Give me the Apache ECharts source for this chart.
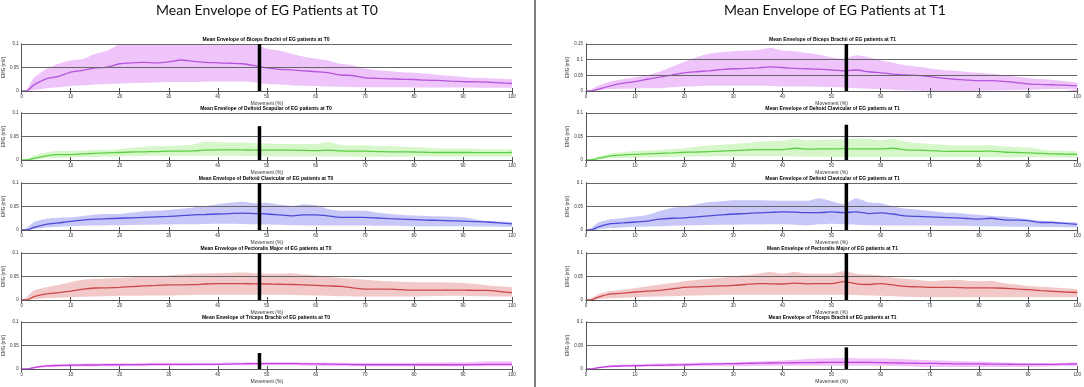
<!DOCTYPE html>
<html>
<head>
<meta charset="utf-8">
<script src="https://cdn.jsdelivr.net/npm/echarts@6/dist/echarts.min.js"></script>
<style>
  html, body { margin: 0; padding: 0; background: #fff; }
  #chart { width: 1084px; height: 387px; }
</style>
</head>
<body>
<div id="chart"></div>
<script>
// movement (%) sample points
var movement = [0, 1, 2.5, 5, 7.5, 10, 12.5, 15, 17.5, 20,
  22.5, 25, 27.5, 30, 32.5, 35, 37.5, 40, 42.5, 45,
  47.5, 50, 52.5, 55, 57.5, 60, 62.5, 65, 67.5, 70,
  72.5, 75, 77.5, 80, 82.5, 85, 87.5, 90, 92.5, 95,
  97.5, 100];

// ---- T0 ----
var bicepsT0Mean = [0, 0, .013, .026, .031, .040, .044, .049, .051, .058,
  .060, .061, .060, .062, .066, .063, .061, .060, .059, .058,
  .054, .049, .046, .045, .043, .041, .039, .034, .033, .028,
  .027, .026, .025, .0245, .023, .0225, .021, .020, .0195, .019,
  .0175, .016];
var bicepsT0Up = [0, .002, .028, .047, .058, .065, .068, .079, .086, .100,
  .106, .108, .11, .11, .11, .11, .11, .11, .108, .106,
  .100, .090, .086, .079, .073, .069, .065, .058, .055, .048,
  .044, .042, .040, .039, .037, .034, .032, .030, .028, .027,
  .026, .025];
var bicepsT0Low = [0, 0, .002, .006, .008, .0105, .012, .014, .015, .016,
  .017, .0175, .018, .019, .019, .019, .0195, .020, .020, .020,
  .018, .015, .014, .0125, .011, .0105, .0095, .009, .0085, .008,
  .008, .008, .0078, .0075, .0075, .0075, .0073, .0072, .0071, .007,
  .007, .007];

var scapT0Mean = [0, 0, .0035, .009, .0115, .0115, .013, .014, .015, .016,
  .017, .0175, .018, .019, .019, .0195, .021, .0215, .0215, .0215,
  .021, .021, .021, .021, .0205, .020, .021, .0195, .019, .019,
  .018, .0175, .0172, .017, .0165, .016, .016, .016, .0158, .0155,
  .0157, .016];
var scapT0Up = [0, .001, .009, .016, .019, .019, .020, .0215, .022, .023,
  .026, .028, .029, .030, .031, .033, .039, .038, .037, .037,
  .036, .035, .034, .034, .034, .034, .039, .032, .031, .0315,
  .030, .029, .028, .027, .026, .0245, .0245, .0245, .024, .023,
  .023, .023];
var scapT0Low = [0, 0, .0005, .0035, .0045, .0055, .006, .0065, .007, .0077,
  .008, .0085, .0088, .009, .009, .009, .009, .009, .0088, .0085,
  .008, .0077, .0077, .0077, .0077, .0077, .0075, .0072, .007, .007,
  .007, .007, .007, .007, .0072, .0074, .0075, .0077, .0077, .0077,
  .0077, .0077];

var clavT0Mean = [0, 0, .0055, .012, .015, .0185, .021, .023, .024, .025,
  .026, .027, .028, .029, .0305, .032, .033, .034, .035, .036,
  .035, .034, .032, .030, .032, .032, .030, .027, .027, .027,
  .0255, .024, .023, .022, .021, .0205, .0195, .019, .018, .017,
  .015, .013];
var clavT0Up = [0, .004, .017, .024, .026, .027, .030, .033, .034, .034,
  .037, .040, .041, .0425, .045, .048, .051, .055, .058, .060,
  .057, .058, .054, .051, .055, .053, .0445, .041, .041, .041,
  .037, .034, .032, .031, .030, .029, .028, .027, .023, .019,
  .018, .017];
var clavT0Low = [0, 0, .002, .0055, .007, .008, .009, .0095, .0098, .010,
  .0105, .011, .0112, .0115, .012, .0125, .013, .0135, .0135, .013,
  .012, .0115, .011, .010, .0098, .0095, .0095, .0095, .0095, .0095,
  .009, .0088, .0085, .008, .008, .008, .008, .008, .0075, .0072,
  .007, .007];

var pectT0Mean = [0, 0, .007, .013, .0156, .019, .023, .0255, .026, .027,
  .0285, .030, .031, .032, .0322, .0325, .034, .0347, .0347, .0347,
  .0345, .034, .0335, .033, .032, .031, .030, .029, .026, .023,
  .023, .023, .022, .021, .021, .021, .021, .021, .0205, .0205,
  .018, .0156];
var pectT0Up = [0, .006, .020, .027, .032, .038, .043, .045, .046, .047,
  .0485, .050, .051, .052, .054, .056, .0565, .057, .058, .0585,
  .057, .056, .056, .057, .054, .052, .049, .047, .045, .043,
  .041, .040, .039, .038, .038, .038, .037, .036, .034, .031,
  .029, .027];
var pectT0Low = [0, 0, .0015, .004, .005, .006, .007, .0075, .008, .009,
  .009, .0093, .0095, .0095, .010, .0105, .011, .011, .011, .011,
  .011, .011, .011, .0105, .010, .0095, .009, .008, .0077, .0075,
  .0075, .0075, .0075, .0075, .008, .0085, .009, .009, .008, .0077,
  .0075, .0075];

var tricT0Mean = [0, 0, .003, .0065, .0075, .008, .0085, .0085, .009, .009,
  .0095, .0095, .010, .010, .010, .010, .010, .010, .0105, .011,
  .0115, .0115, .0115, .0115, .011, .011, .0105, .010, .0095, .009,
  .009, .009, .009, .009, .009, .009, .009, .009, .0095, .0097,
  .010, .010];
var tricT0Up = [0, .001, .005, .0085, .010, .011, .0113, .0115, .012, .012,
  .0125, .013, .0132, .0135, .0135, .0135, .0135, .0135, .014, .014,
  .0145, .0145, .0145, .0145, .014, .0135, .0135, .0135, .0135, .0135,
  .0135, .0135, .0135, .0135, .0138, .014, .0145, .0145, .015, .0165,
  .0165, .0165];
var tricT0Low = [0, 0, .0007, .0035, .0045, .005, .0053, .0055, .0056, .0057,
  .006, .006, .0063, .0065, .007, .007, .0073, .0075, .0078, .008,
  .008, .008, .008, .0078, .007, .0065, .006, .006, .0057, .0057,
  .0057, .0057, .0057, .0057, .0057, .0057, .0057, .0057, .0057, .0057,
  .0057, .0057];

// ---- T1 ----
var bicepsT1Mean = [0, 0, .006, .0165, .025, .030, .0375, .044, .051, .058,
  .0615, .0645, .068, .071, .072, .074, .077, .075, .072, .071,
  .070, .067, .0645, .067, .0615, .058, .054, .051, .050, .046,
  .041, .0375, .035, .033, .033, .031, .027, .023, .021, .020,
  .019, .0165];
var bicepsT1Up = [0, .004, .0165, .030, .0375, .044, .051, .0615, .077, .093,
  .108, .119, .124, .127, .129, .131, .1375, .129, .127, .121,
  .116, .108, .103, .114, .108, .098, .090, .082, .077, .072,
  .067, .0645, .061, .058, .055, .051, .046, .041, .038, .035,
  .031, .027];
var bicepsT1Low = [0, 0, .002, .006, .007, .008, .0085, .009, .012, .0145,
  .0155, .0165, .0165, .0165, .0165, .0165, .016, .0145, .0145, .0145,
  .0135, .0125, .011, .009, .0075, .006, .004, .002, .001, 0,
  0, 0, 0, .001, .0015, .002, .003, .004, .005, .006,
  .006, .006];

var clavAT1Mean = [0, 0, .0035, .009, .0107, .012, .013, .014, .015, .0165,
  .017, .018, .019, .020, .021, .022, .022, .022, .025, .023,
  .0235, .0235, .024, .0235, .0235, .0235, .025, .0215, .021, .020,
  .019, .0185, .0185, .0185, .019, .017, .016, .015, .014, .013,
  .0125, .012];
var clavAT1Up = [0, .002, .008, .014, .0165, .019, .020, .0215, .023, .025,
  .028, .031, .0325, .034, .036, .039, .040, .0415, .046, .0415,
  .0425, .0435, .0435, .046, .045, .0415, .045, .039, .036, .034,
  .0325, .031, .031, .031, .032, .0285, .0275, .0265, .023, .020,
  .019, .018];
var clavAT1Low = [0, 0, .0007, .0035, .0043, .005, .0055, .006, .0065, .007,
  .0075, .0077, .008, .008, .008, .008, .008, .008, .0075, .007,
  .0068, .0065, .0065, .0065, .0065, .0065, .0065, .0065, .0065, .0065,
  .0065, .0065, .0065, .0065, .006, .006, .006, .0057, .0055, .0053,
  .005, .005];

var clavT1Mean = [0, 0, .0068, .0135, .015, .017, .019, .023, .025, .0257,
  .028, .030, .032, .034, .035, .0365, .0375, .0385, .038, .037,
  .037, .0385, .037, .0385, .035, .0365, .034, .030, .029, .028,
  .027, .026, .0245, .023, .025, .0216, .021, .020, .016, .016,
  .014, .012];
var clavT1Up = [0, .004, .016, .023, .025, .0285, .032, .0405, .047, .050,
  .055, .059, .061, .0635, .0635, .0635, .063, .062, .062, .062,
  .0675, .061, .055, .0675, .059, .057, .050, .0455, .043, .0405,
  .038, .0365, .034, .032, .030, .0285, .026, .023, .020, .018,
  .017, .016];
var clavT1Low = [0, 0, .0013, .004, .0055, .0068, .0075, .008, .009, .0095,
  .010, .0105, .011, .011, .0115, .0115, .012, .012, .011, .0095,
  .012, .0135, .012, .011, .010, .0095, .0095, .0095, .0095, .0095,
  .009, .0088, .0085, .008, .008, .0075, .007, .0068, .0065, .0063,
  .006, .006];

var pectT1Mean = [0, 0, .006, .013, .0147, .017, .019, .0205, .0235, .027,
  .028, .029, .030, .031, .033, .035, .0345, .034, .036, .0345,
  .035, .035, .039, .0345, .033, .035, .032, .029, .028, .027,
  .027, .027, .026, .0257, .0257, .025, .0235, .022, .020, .0185,
  .017, .016];
var pectT1Up = [0, .003, .012, .019, .022, .025, .029, .0325, .036, .040,
  .0425, .045, .0475, .050, .053, .056, .0595, .056, .0595, .056,
  .056, .056, .061, .056, .054, .052, .048, .045, .0425, .040,
  .0415, .043, .041, .040, .041, .0355, .033, .030, .028, .0265,
  .025, .023];
var pectT1Low = [0, 0, .0015, .0037, .005, .006, .007, .0075, .008, .009,
  .0095, .010, .0105, .011, .011, .011, .011, .011, .011, .011,
  .011, .011, .011, .0105, .0095, .009, .008, .007, .0065, .006,
  .006, .006, .006, .006, .006, .006, .006, .006, .006, .006,
  .006, .006];

var tricT1Mean = [0, 0, .003, .0057, .0065, .007, .0075, .008, .0085, .009,
  .0098, .0105, .011, .0115, .012, .0125, .0128, .013, .0133, .0135,
  .0138, .014, .014, .014, .014, .0135, .013, .0125, .0122, .012,
  .0115, .011, .0108, .0107, .0105, .0103, .010, .010, .010, .010,
  .0105, .0107];
var tricT1Up = [0, .001, .0043, .008, .009, .010, .011, .0115, .012, .013,
  .0135, .0138, .014, .014, .015, .016, .017, .018, .0195, .0215,
  .0225, .023, .0235, .023, .0225, .0225, .022, .021, .0195, .0185,
  .018, .017, .0165, .0157, .015, .014, .0135, .013, .013, .013,
  .0135, .014];
var tricT1Low = [0, 0, .0007, .003, .004, .0043, .005, .0053, .0055, .0057,
  .0057, .0057, .0057, .0057, .006, .0065, .0068, .007, .007, .007,
  .007, .007, .007, .007, .007, .007, .0065, .006, .005, .0043,
  .0043, .0043, .0043, .0043, .0043, .0043, .0045, .0045, .005, .0055,
  .0057, .0057];

var musclesT0 = ['Biceps Brachii', 'Deltoid Scapular', 'Deltoid Clavicular', 'Pectoralis Major', 'Triceps Brachii'];
var musclesT1 = ['Biceps Brachii', 'Deltoid Clavicular', 'Deltoid Clavicular', 'Pectoralis Major', 'Triceps Brachii'];
var yMaxT0 = [0.1, 0.1, 0.1, 0.1, 0.1];
var yMaxT1 = [0.15, 0.1, 0.1, 0.1, 0.1];
var markerT0 = 48.5, markerT1 = 53;
var markerTopT0 = [0.1, 0.072, 0.1, 0.1, 0.034];
var markerTopT1 = [0.15, 0.075, 0.1, 0.1, 0.046];

var lineColors = ['#b455dc', '#5ccf45', '#4b4bd8', '#cc4848', '#c240e0'];
var bandColors = ['#eec4fa', '#d6f7c9', '#c7c7f8', '#f2c8c8', '#f1c3fa'];

var panels = [
  { time: 'T0', muscles: musclesT0, yMax: yMaxT0, marker: markerT0, markerTop: markerTopT0,
    mean: [bicepsT0Mean, scapT0Mean, clavT0Mean, pectT0Mean, tricT0Mean],
    up: [bicepsT0Up, scapT0Up, clavT0Up, pectT0Up, tricT0Up],
    low: [bicepsT0Low, scapT0Low, clavT0Low, pectT0Low, tricT0Low] },
  { time: 'T1', muscles: musclesT1, yMax: yMaxT1, marker: markerT1, markerTop: markerTopT1,
    mean: [bicepsT1Mean, clavAT1Mean, clavT1Mean, pectT1Mean, tricT1Mean],
    up: [bicepsT1Up, clavAT1Up, clavT1Up, pectT1Up, tricT1Up],
    low: [bicepsT1Low, clavAT1Low, clavT1Low, pectT1Low, tricT1Low] }
];

var panelLeft = [20, 586];
var panelWidth = [492, 493];
var rowTops = [44, 113, 183, 253, 322];
var rowHeight = 47;

function pairs(xs, ys) {
  return xs.map(function (x, i) { return [x, ys[i]]; });
}

var axisGray = '#555';
var grids = [], xAxes = [], yAxes = [], series = [], titles = [];

titles.push({ text: 'Mean Envelope of EG Patients at T0', left: 267, top: 3, padding: 0, textAlign: 'center',
  textStyle: { fontFamily: 'Lato', fontWeight: 'normal', fontSize: 14, color: '#111' } });
titles.push({ text: 'Mean Envelope of EG Patients at T1', left: 835, top: 3, padding: 0, textAlign: 'center',
  textStyle: { fontFamily: 'Lato', fontWeight: 'normal', fontSize: 14, color: '#111' } });

panels.forEach(function (p, pi) {
  for (var r = 0; r < 5; r++) {
    var g = grids.length;
    grids.push({ left: panelLeft[pi], top: rowTops[r], width: panelWidth[pi], height: rowHeight });
    titles.push({
      text: 'Mean Envelope of ' + p.muscles[r] + ' of EG patients at ' + p.time,
      left: panelLeft[pi] + panelWidth[pi] / 2, top: rowTops[r] - 7, padding: 0, textAlign: 'center',
      textStyle: { fontFamily: 'Liberation Sans', fontSize: 5, fontWeight: 'bold', color: '#000' }
    });
    xAxes.push({
      gridIndex: g, type: 'value', min: 0, max: 100, interval: 10, z: 10,
      name: 'Movement (%)', nameLocation: 'middle', nameGap: 10,
      nameTextStyle: { fontSize: 5, color: '#333', fontFamily: 'Liberation Sans' },
      axisLine: { show: true, lineStyle: { color: axisGray, width: 1 } },
      axisTick: { show: true, inside: true, length: 3, lineStyle: { color: axisGray } },
      axisLabel: { fontSize: 4.5, color: '#333', margin: 3, fontFamily: 'Liberation Sans' },
      splitLine: { show: false }
    });
    xAxes.push({
      gridIndex: g, type: 'value', position: 'top', min: 0, max: 100, interval: 10, z: 10,
      axisLine: { show: true, lineStyle: { color: axisGray, width: 1 } },
      axisTick: { show: true, inside: true, length: 3, lineStyle: { color: axisGray } },
      axisLabel: { show: false }, splitLine: { show: false }
    });
    yAxes.push({
      gridIndex: g, type: 'value', min: 0, max: p.yMax[r], interval: 0.05, z: 10,
      name: 'EMG (mV)', nameLocation: 'middle', nameGap: 12,
      nameTextStyle: { fontSize: 4.5, color: '#333', fontFamily: 'Liberation Sans' },
      axisLine: { show: true, lineStyle: { color: axisGray, width: 1 } },
      axisTick: { show: false },
      axisLabel: { fontSize: 4.5, color: '#333', margin: 3, fontFamily: 'Liberation Sans' },
      splitLine: { show: true, lineStyle: { color: '#666', width: 1 } }
    });
    yAxes.push({
      gridIndex: g, type: 'value', position: 'right', min: 0, max: p.yMax[r], z: 10,
      axisLine: { show: true, lineStyle: { color: axisGray, width: 1 } },
      axisTick: { show: false }, axisLabel: { show: false }, splitLine: { show: false }
    });
    var xi = 2 * g, yi = 2 * g;
    series.push({
      type: 'line', xAxisIndex: xi, yAxisIndex: yi, data: pairs(movement, p.up[r]),
      symbol: 'none', smooth: 0.2, z: 2, silent: true,
      lineStyle: { width: 0 }, areaStyle: { color: bandColors[r], opacity: 1 }
    });
    series.push({
      type: 'line', xAxisIndex: xi, yAxisIndex: yi, data: pairs(movement, p.low[r]),
      symbol: 'none', smooth: 0.2, z: 3, silent: true,
      lineStyle: { width: 0 }, areaStyle: { color: '#ffffff', opacity: 1 }
    });
    series.push({
      type: 'line', xAxisIndex: xi, yAxisIndex: yi, data: pairs(movement, p.mean[r]),
      symbol: 'none', smooth: 0.2, z: 4, silent: true,
      lineStyle: { width: 1.3, color: lineColors[r] }
    });
    series.push({
      type: 'line', xAxisIndex: xi, yAxisIndex: yi,
      data: [[p.marker, 0], [p.marker, p.markerTop[r]]],
      symbol: 'none', z: 12, silent: true, clip: false,
      lineStyle: { width: 3.5, color: '#000', cap: 'butt' }
    });
  }
});

var chart = echarts.init(document.getElementById('chart'), null, { renderer: 'canvas' });
chart.setOption({
  animation: false,
  backgroundColor: '#fff',
  title: titles,
  grid: grids,
  xAxis: xAxes,
  yAxis: yAxes,
  series: series,
  graphic: [{
    type: 'line', shape: { x1: 535, y1: 0, x2: 535, y2: 387 },
    style: { stroke: '#000', lineWidth: 1 }
  }]
});
</script>
</body>
</html>
